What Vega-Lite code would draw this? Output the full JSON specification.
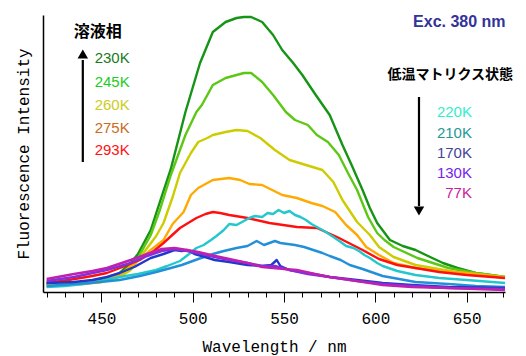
{
  "$schema": "https://vega.github.io/schema/vega-lite/v6.json",
  "autosize": {"type": "none"},
  "padding": {"left": 43, "top": 15, "right": 21, "bottom": 64},
  "width": 462,
  "height": 277,
  "config": {
    "view": {"stroke": null},
    "axis": {"grid": false, "domainColor": "black", "tickColor": "black", "labelColor": "black", "titleColor": "black"}
  },
  "datasets": {
    "spec": [
      {"T":"230K","x":420,"y":9},{"T":"230K","x":430,"y":9},{"T":"230K","x":440,"y":10},{"T":"230K","x":450,"y":12},{"T":"230K","x":460,"y":19},{"T":"230K","x":466,"y":29},{"T":"230K","x":470,"y":38},{"T":"230K","x":477,"y":62},{"T":"230K","x":482,"y":90},{"T":"230K","x":488,"y":123},{"T":"230K","x":496,"y":180},{"T":"230K","x":504,"y":229},{"T":"230K","x":511,"y":260},{"T":"230K","x":518,"y":270},{"T":"230K","x":524,"y":274},{"T":"230K","x":528,"y":275},{"T":"230K","x":532,"y":275},{"T":"230K","x":538,"y":270},{"T":"230K","x":544,"y":257},{"T":"230K","x":549,"y":242},{"T":"230K","x":555,"y":229},{"T":"230K","x":560,"y":217},{"T":"230K","x":567,"y":198},{"T":"230K","x":575,"y":177},{"T":"230K","x":582,"y":147},{"T":"230K","x":587,"y":127},{"T":"230K","x":593,"y":102},{"T":"230K","x":597,"y":84},{"T":"230K","x":601,"y":69},{"T":"230K","x":608,"y":52},{"T":"230K","x":615,"y":46},{"T":"230K","x":622,"y":42},{"T":"230K","x":630,"y":35},{"T":"230K","x":637,"y":29},{"T":"230K","x":645,"y":24},{"T":"230K","x":655,"y":19},{"T":"230K","x":663,"y":17},{"T":"230K","x":671,"y":15},

      {"T":"245K","x":420,"y":8},{"T":"245K","x":430,"y":8},{"T":"245K","x":440,"y":9},{"T":"245K","x":450,"y":11},{"T":"245K","x":460,"y":17},{"T":"245K","x":466,"y":26},{"T":"245K","x":470,"y":34},{"T":"245K","x":477,"y":57},{"T":"245K","x":482,"y":82},{"T":"245K","x":488,"y":117},{"T":"245K","x":496,"y":157},{"T":"245K","x":502,"y":180},{"T":"245K","x":505,"y":187},{"T":"245K","x":511,"y":207},{"T":"245K","x":518,"y":214},{"T":"245K","x":524,"y":217},{"T":"245K","x":528,"y":219},{"T":"245K","x":532,"y":219},{"T":"245K","x":538,"y":210},{"T":"245K","x":544,"y":197},{"T":"245K","x":551,"y":180},{"T":"245K","x":556,"y":172},{"T":"245K","x":563,"y":167},{"T":"245K","x":568,"y":157},{"T":"245K","x":574,"y":150},{"T":"245K","x":580,"y":137},{"T":"245K","x":585,"y":119},{"T":"245K","x":590,"y":102},{"T":"245K","x":596,"y":75},{"T":"245K","x":601,"y":59},{"T":"245K","x":605,"y":52},{"T":"245K","x":610,"y":45},{"T":"245K","x":623,"y":34},{"T":"245K","x":640,"y":24},{"T":"245K","x":655,"y":19},{"T":"245K","x":671,"y":15},

      {"T":"260K","x":420,"y":7},{"T":"260K","x":430,"y":8},{"T":"260K","x":440,"y":9},{"T":"260K","x":450,"y":10},{"T":"260K","x":460,"y":15},{"T":"260K","x":466,"y":22},{"T":"260K","x":473,"y":39},{"T":"260K","x":480,"y":56},{"T":"260K","x":484,"y":69},{"T":"260K","x":489,"y":95},{"T":"260K","x":493,"y":119},{"T":"260K","x":499,"y":139},{"T":"260K","x":503,"y":150},{"T":"260K","x":508,"y":154},{"T":"260K","x":511,"y":157},{"T":"260K","x":518,"y":160},{"T":"260K","x":524,"y":162},{"T":"260K","x":530,"y":161},{"T":"260K","x":537,"y":154},{"T":"260K","x":545,"y":142},{"T":"260K","x":553,"y":132},{"T":"260K","x":562,"y":127},{"T":"260K","x":571,"y":122},{"T":"260K","x":577,"y":110},{"T":"260K","x":582,"y":92},{"T":"260K","x":590,"y":70},{"T":"260K","x":597,"y":57},{"T":"260K","x":602,"y":45},{"T":"260K","x":610,"y":35},{"T":"260K","x":622,"y":27},{"T":"260K","x":644,"y":20},{"T":"260K","x":660,"y":17},{"T":"260K","x":671,"y":15},

      {"T":"275K","x":420,"y":6},{"T":"275K","x":430,"y":7},{"T":"275K","x":440,"y":8},{"T":"275K","x":450,"y":10},{"T":"275K","x":460,"y":17},{"T":"275K","x":467,"y":27},{"T":"275K","x":477,"y":42},{"T":"275K","x":484,"y":52},{"T":"275K","x":489,"y":68},{"T":"275K","x":495,"y":80},{"T":"275K","x":499,"y":97},{"T":"275K","x":503,"y":104},{"T":"275K","x":511,"y":112},{"T":"275K","x":520,"y":114},{"T":"275K","x":526,"y":112},{"T":"275K","x":531,"y":108},{"T":"275K","x":538,"y":107},{"T":"275K","x":549,"y":97},{"T":"275K","x":557,"y":94},{"T":"275K","x":565,"y":89},{"T":"275K","x":571,"y":86},{"T":"275K","x":578,"y":80},{"T":"275K","x":584,"y":67},{"T":"275K","x":590,"y":57},{"T":"275K","x":595,"y":45},{"T":"275K","x":602,"y":37},{"T":"275K","x":610,"y":29},{"T":"275K","x":622,"y":24},{"T":"275K","x":635,"y":21},{"T":"275K","x":650,"y":19},{"T":"275K","x":671,"y":14},

      {"T":"293K","x":420,"y":9},{"T":"293K","x":432,"y":12},{"T":"293K","x":445,"y":16},{"T":"293K","x":453,"y":19},{"T":"293K","x":463,"y":26},{"T":"293K","x":471,"y":32},{"T":"293K","x":478,"y":40},{"T":"293K","x":484,"y":49},{"T":"293K","x":493,"y":64},{"T":"293K","x":502,"y":74},{"T":"293K","x":507,"y":78},{"T":"293K","x":511,"y":80},{"T":"293K","x":515,"y":79},{"T":"293K","x":520,"y":77},{"T":"293K","x":530,"y":74},{"T":"293K","x":542,"y":69},{"T":"293K","x":557,"y":65},{"T":"293K","x":568,"y":64},{"T":"293K","x":579,"y":55},{"T":"293K","x":593,"y":42},{"T":"293K","x":602,"y":33},{"T":"293K","x":612,"y":27},{"T":"293K","x":622,"y":24},{"T":"293K","x":635,"y":20},{"T":"293K","x":650,"y":17},{"T":"293K","x":671,"y":14},

      {"T":"220K","x":420,"y":5},{"T":"220K","x":430,"y":6},{"T":"220K","x":440,"y":8},{"T":"220K","x":450,"y":11},{"T":"220K","x":460,"y":15},{"T":"220K","x":470,"y":18},{"T":"220K","x":480,"y":22},{"T":"220K","x":486,"y":26},{"T":"220K","x":493,"y":31},{"T":"220K","x":498,"y":38},{"T":"220K","x":502,"y":44},{"T":"220K","x":506,"y":47},{"T":"220K","x":510,"y":52},{"T":"220K","x":513,"y":56},{"T":"220K","x":517,"y":62},{"T":"220K","x":520,"y":68},{"T":"220K","x":524,"y":67},{"T":"220K","x":527,"y":70},{"T":"220K","x":531,"y":74},{"T":"220K","x":534,"y":76},{"T":"220K","x":538,"y":75},{"T":"220K","x":541,"y":79},{"T":"220K","x":544,"y":78},{"T":"220K","x":547,"y":82},{"T":"220K","x":550,"y":79},{"T":"220K","x":553,"y":81},{"T":"220K","x":556,"y":77},{"T":"220K","x":559,"y":75},{"T":"220K","x":562,"y":72},{"T":"220K","x":565,"y":68},{"T":"220K","x":568,"y":65},{"T":"220K","x":572,"y":61},{"T":"220K","x":577,"y":55},{"T":"220K","x":581,"y":50},{"T":"220K","x":584,"y":46},{"T":"220K","x":588,"y":44},{"T":"220K","x":591,"y":41},{"T":"220K","x":594,"y":37},{"T":"220K","x":597,"y":34},{"T":"220K","x":601,"y":29},{"T":"220K","x":604,"y":26},{"T":"220K","x":612,"y":21},{"T":"220K","x":622,"y":17},{"T":"220K","x":635,"y":14},{"T":"220K","x":650,"y":12},{"T":"220K","x":671,"y":9},

      {"T":"210K","x":420,"y":6},{"T":"210K","x":435,"y":8},{"T":"210K","x":444,"y":9},{"T":"210K","x":460,"y":12},{"T":"210K","x":471,"y":16},{"T":"210K","x":480,"y":20},{"T":"210K","x":486,"y":23},{"T":"210K","x":494,"y":27},{"T":"210K","x":503,"y":33},{"T":"210K","x":511,"y":38},{"T":"210K","x":517,"y":41},{"T":"210K","x":524,"y":44},{"T":"210K","x":530,"y":46},{"T":"210K","x":535,"y":51},{"T":"210K","x":539,"y":47},{"T":"210K","x":542,"y":49},{"T":"210K","x":545,"y":51},{"T":"210K","x":548,"y":49},{"T":"210K","x":552,"y":48},{"T":"210K","x":556,"y":47},{"T":"210K","x":561,"y":45},{"T":"210K","x":566,"y":42},{"T":"210K","x":571,"y":39},{"T":"210K","x":575,"y":36},{"T":"210K","x":581,"y":32},{"T":"210K","x":586,"y":27},{"T":"210K","x":593,"y":23},{"T":"210K","x":604,"y":16},{"T":"210K","x":613,"y":13},{"T":"210K","x":622,"y":10},{"T":"210K","x":640,"y":8},{"T":"210K","x":655,"y":6},{"T":"210K","x":671,"y":5},

      {"T":"170K","x":420,"y":9},{"T":"170K","x":435,"y":10},{"T":"170K","x":445,"y":12},{"T":"170K","x":453,"y":15},{"T":"170K","x":460,"y":19},{"T":"170K","x":468,"y":25},{"T":"170K","x":477,"y":34},{"T":"170K","x":484,"y":38},{"T":"170K","x":490,"y":42},{"T":"170K","x":494,"y":41},{"T":"170K","x":497,"y":42},{"T":"170K","x":501,"y":38},{"T":"170K","x":505,"y":36},{"T":"170K","x":512,"y":32},{"T":"170K","x":520,"y":30},{"T":"170K","x":530,"y":27},{"T":"170K","x":538,"y":26},{"T":"170K","x":543,"y":27},{"T":"170K","x":546,"y":32},{"T":"170K","x":548,"y":26},{"T":"170K","x":553,"y":22},{"T":"170K","x":563,"y":19},{"T":"170K","x":575,"y":15},{"T":"170K","x":590,"y":12},{"T":"170K","x":604,"y":9},{"T":"170K","x":620,"y":7},{"T":"170K","x":640,"y":5},{"T":"170K","x":671,"y":4},

      {"T":"130K","x":420,"y":11},{"T":"130K","x":435,"y":15},{"T":"130K","x":453,"y":22},{"T":"130K","x":466,"y":29},{"T":"130K","x":475,"y":36},{"T":"130K","x":483,"y":41},{"T":"130K","x":490,"y":43},{"T":"130K","x":497,"y":41},{"T":"130K","x":505,"y":38},{"T":"130K","x":512,"y":35},{"T":"130K","x":520,"y":32},{"T":"130K","x":530,"y":29},{"T":"130K","x":538,"y":26},{"T":"130K","x":545,"y":26},{"T":"130K","x":553,"y":22},{"T":"130K","x":563,"y":18},{"T":"130K","x":575,"y":15},{"T":"130K","x":590,"y":11},{"T":"130K","x":604,"y":8},{"T":"130K","x":620,"y":6},{"T":"130K","x":640,"y":4},{"T":"130K","x":671,"y":3},

      {"T":"77K","x":420,"y":13},{"T":"77K","x":435,"y":18},{"T":"77K","x":445,"y":21},{"T":"77K","x":453,"y":24},{"T":"77K","x":466,"y":32},{"T":"77K","x":475,"y":38},{"T":"77K","x":483,"y":43},{"T":"77K","x":490,"y":44},{"T":"77K","x":497,"y":42},{"T":"77K","x":503,"y":40},{"T":"77K","x":510,"y":37},{"T":"77K","x":520,"y":33},{"T":"77K","x":530,"y":29},{"T":"77K","x":538,"y":25},{"T":"77K","x":550,"y":23},{"T":"77K","x":557,"y":22},{"T":"77K","x":567,"y":18},{"T":"77K","x":575,"y":15},{"T":"77K","x":590,"y":11},{"T":"77K","x":604,"y":7},{"T":"77K","x":620,"y":5},{"T":"77K","x":640,"y":4},{"T":"77K","x":671,"y":2}
    ],
    "labels": [
      {"t":"230K","side":"L","x":446.3,"y":234},
      {"t":"245K","side":"L","x":446.3,"y":210},
      {"t":"260K","side":"L","x":446.3,"y":187},
      {"t":"275K","side":"L","x":446.3,"y":164},
      {"t":"293K","side":"L","x":446.3,"y":142},
      {"t":"220K","side":"R","x":652.9,"y":180},
      {"t":"210K","side":"R","x":652.9,"y":159},
      {"t":"170K","side":"R","x":652.9,"y":139},
      {"t":"130K","side":"R","x":652.9,"y":119},
      {"t":"77K","side":"R","x":652.9,"y":99}
    ],
    "arrows": [
      {"dir":"up","x":439.8,"y1":130,"y2":232,"ty":238},
      {"dir":"down","x":623.9,"y1":195,"y2":86,"ty":81}
    ]
  },
  "layer": [
    {
      "data": {"name": "spec"},
      "mark": {"type": "line", "strokeJoin": "round"},
      "encoding": {
        "x": {"field": "x", "type": "quantitative",
          "scale": {"domain": [418, 671], "nice": false, "zero": false},
          "axis": {
            "orient": "bottom",
            "values": [450, 500, 550, 600, 650],
            "tickSize": 10,
            "tickWidth": 1,
            "domainWidth": 1.5,
            "labelOverlap": false,
            "labelFont": "Liberation Mono", "labelFontSize": 16, "labelPadding": 8,
            "labelFlush": false,
            "title": "Wavelength / nm", "titleFont": "Liberation Mono", "titleFontSize": 16, "titleFontWeight": "normal", "titlePadding": 12
          }
        },
        "y": {"field": "y", "type": "quantitative",
          "scale": {"domain": [0, 277], "nice": false},
          "axis": {"ticks": false, "labels": false, "domainWidth": 1.5,
            "title": "Fluorescence Intensity", "titleFont": "Liberation Mono", "titleFontSize": 16, "titleFontWeight": "normal", "titlePadding": 12}
        },
        "detail": {"field": "T"},
        "color": {"field": "T", "type": "nominal", "legend": null,
          "scale": {"domain": ["230K","245K","260K","275K","293K","220K","210K","170K","130K","77K"],
            "range": ["#169416","#5cc814","#cccc00","#ffaa00","#ff1010","#22c8cc","#2290d8","#2038cc","#8030dd","#c020b0"]}},
        "strokeWidth": {"field": "T", "type": "nominal", "legend": null,
          "scale": {"domain": ["230K","245K","260K","275K","293K","220K","210K","170K","130K","77K"],
            "range": [2.4,2.4,2.4,2.4,2.4,1.5,1.5,1.5,1.5,1.5]}}
      }
    },
    {
      "data": {"name": "labels"},
      "transform": [{"filter": "datum.side === 'L'"}],
      "mark": {"type": "text", "align": "left", "baseline": "middle", "font": "Liberation Sans", "fontSize": 15},
      "encoding": {
        "x": {"field": "x", "type": "quantitative",
          "axis": {
            "orient": "bottom",
            "values": [420,430,440,460,470,480,490,510,520,530,540,560,570,580,590,610,620,630,640,660,670],
            "tickSize": 5, "tickWidth": 1, "labels": false, "domain": false, "title": null
          }
        },
        "y": {"field": "y", "type": "quantitative"},
        "text": {"field": "t"},
        "color": {"field": "t", "type": "nominal", "legend": null,
          "scale": {"domain": ["230K","245K","260K","275K","293K","220K","210K","170K","130K","77K"],
            "range": ["#1a7a1a","#22cc22","#cccc22","#cc6a22","#ff1111","#33eecc","#229999","#444499","#7722ee","#cc2299"]}}
      }
    },
    {
      "data": {"name": "labels"},
      "transform": [{"filter": "datum.side === 'R'"}],
      "mark": {"type": "text", "align": "right", "baseline": "middle", "font": "Liberation Sans", "fontSize": 15},
      "encoding": {
        "x": {"field": "x", "type": "quantitative", "axis": null},
        "y": {"field": "y", "type": "quantitative"},
        "text": {"field": "t"},
        "color": {"field": "t", "type": "nominal", "legend": null,
          "scale": {"domain": ["230K","245K","260K","275K","293K","220K","210K","170K","130K","77K"],
            "range": ["#1a7a1a","#22cc22","#cccc22","#cc6a22","#ff1111","#33eecc","#229999","#444499","#7722ee","#cc2299"]}}
      }
    },
    {
      "data": {"values": [{"x": 448, "y": 260, "t": "溶液相"}]},
      "mark": {"type": "text", "align": "center", "baseline": "middle", "font": "Noto Sans CJK JP", "fontWeight": "bold", "fontSize": 16, "color": "black"},
      "encoding": {
        "x": {"field": "x", "type": "quantitative", "axis": null},
        "y": {"field": "y", "type": "quantitative"},
        "text": {"field": "t"}
      }
    },
    {
      "data": {"values": [{"x": 641, "y": 217, "t": "低温マトリクス状態"}]},
      "mark": {"type": "text", "align": "center", "baseline": "middle", "font": "Noto Sans CJK JP", "fontWeight": "bold", "fontSize": 14, "color": "black"},
      "encoding": {
        "x": {"field": "x", "type": "quantitative", "axis": null},
        "y": {"field": "y", "type": "quantitative"},
        "text": {"field": "t"}
      }
    },
    {
      "data": {"values": [{"x": 646, "y": 270, "t": "Exc. 380 nm"}]},
      "mark": {"type": "text", "align": "center", "baseline": "middle", "font": "Liberation Sans", "fontWeight": "bold", "fontSize": 16, "color": "#333399"},
      "encoding": {
        "x": {"field": "x", "type": "quantitative", "axis": null},
        "y": {"field": "y", "type": "quantitative"},
        "text": {"field": "t"}
      }
    },
    {
      "data": {"name": "arrows"},
      "mark": {"type": "rule", "strokeWidth": 2.2, "color": "black"},
      "encoding": {
        "x": {"field": "x", "type": "quantitative", "axis": null},
        "y": {"field": "y1", "type": "quantitative"},
        "y2": {"field": "y2"}
      }
    },
    {
      "data": {"name": "arrows"},
      "mark": {"type": "point", "filled": true, "color": "black", "opacity": 1, "size": 110},
      "encoding": {
        "x": {"field": "x", "type": "quantitative", "axis": null},
        "y": {"field": "ty", "type": "quantitative"},
        "shape": {"field": "dir", "type": "nominal", "legend": null,
          "scale": {"domain": ["up", "down"], "range": ["triangle-up", "triangle-down"]}}
      }
    }
  ],
  "resolve": {"scale": {"color": "independent"}, "axis": {"x": "independent"}}
}
